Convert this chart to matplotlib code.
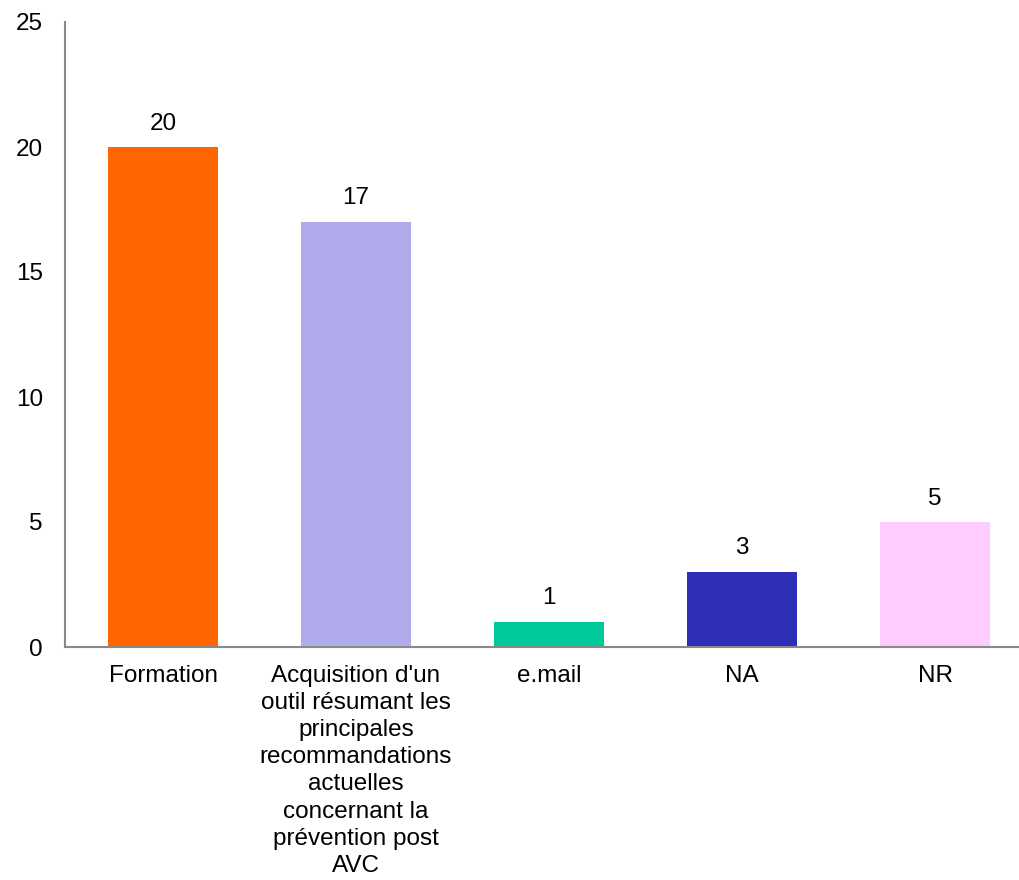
import matplotlib.pyplot as plt

plt.rcParams['font.family'] = ['Liberation Sans', 'DejaVu Sans']

categories = [
    "Formation",
    "Acquisition d'un\noutil résumant les\nprincipales\nrecommandations\nactuelles\nconcernant la\nprévention post\nAVC",
    "e.mail",
    "NA",
    "NR",
]
values = [20, 17, 1, 3, 5]
colors = ['#FF6600', '#B0ACEB', '#00C999', '#2E2EB8', '#FFCCFF']

fig = plt.figure(figsize=(10.19, 8.8), dpi=100)
ax = fig.add_axes([65 / 1019, 1 - 647 / 880, 1 - 65 / 1019, (647 - 22) / 880])

x = range(len(categories))
bars = ax.bar(x, values, width=0.57, color=colors)

# value labels above bars
for b, v in zip(bars, values):
    ax.annotate(str(v), (b.get_x() + b.get_width() / 2, v),
                xytext=(0, 9), textcoords='offset points',
                ha='center', va='bottom', fontsize=17.5)

ax.set_xlim(-0.508, -0.508 + 954 / 193)
ax.set_ylim(0, 25)
ax.set_yticks([0, 5, 10, 15, 20, 25])
ax.set_xticks(list(x))
ax.set_xticklabels(categories, fontsize=17.5, linespacing=1.3)
ax.tick_params(axis='y', labelsize=17.5, length=0, pad=16)
ax.tick_params(axis='x', length=0, pad=13)

for s in ['top', 'right']:
    ax.spines[s].set_visible(False)
for s in ['left', 'bottom']:
    ax.spines[s].set_color('#898989')
    ax.spines[s].set_linewidth(1.5)

fig.savefig('out.png', dpi=100)
